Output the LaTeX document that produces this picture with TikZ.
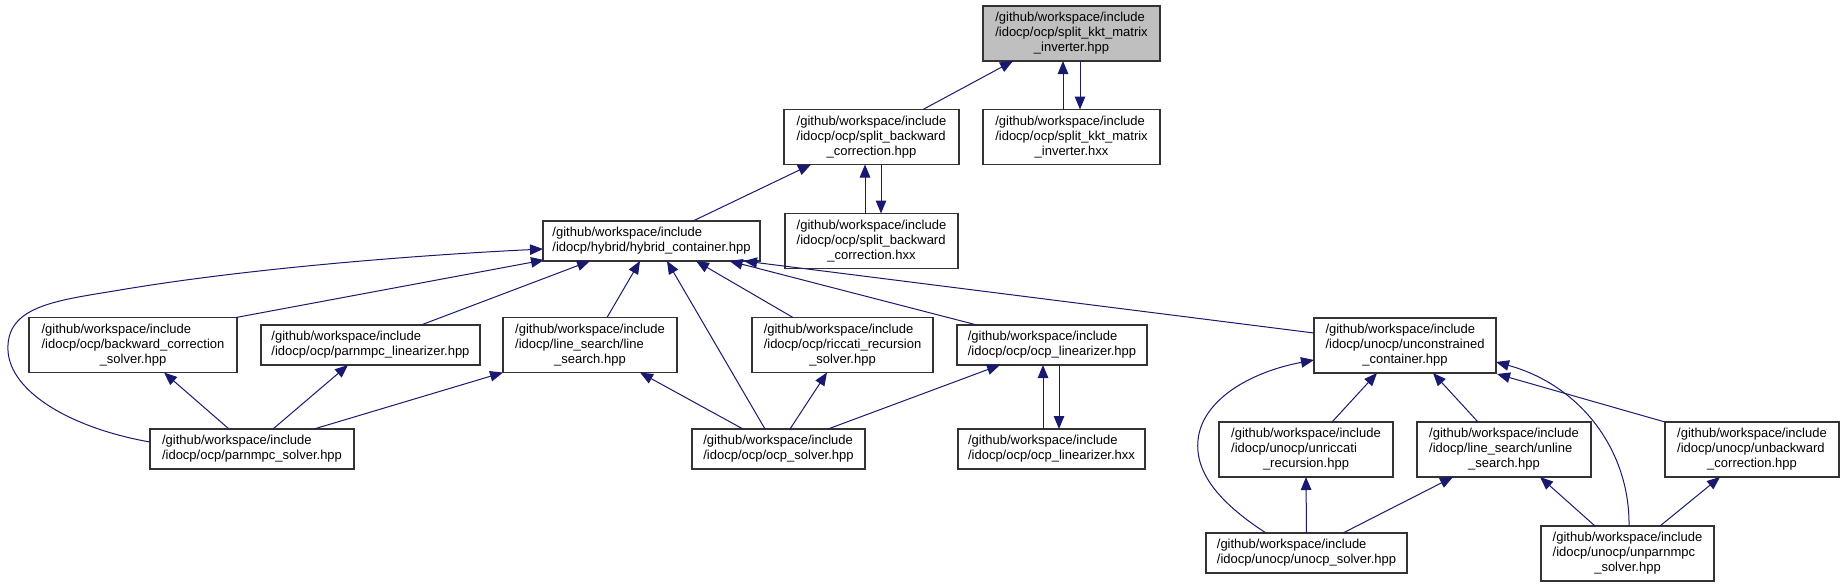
\documentclass[tikz,border=0pt]{standalone}
\usepackage{fontspec}
\setmainfont{Liberation Sans}
\usetikzlibrary{arrows.meta,calc}
\definecolor{edgeblue}{RGB}{25,25,112}
\definecolor{nodegray}{RGB}{191,191,191}
\newcommand\lbltwo[2]{\begin{tabular}{@{}l@{}}#1\\#2\end{tabular}}
\newcommand\lblthree[3]{\begin{tabular}{@{}l@{}}#1\\#2\\\multicolumn{1}{@{}c@{}}{#3}\end{tabular}}
\newcommand\gw{/github/workspace/include}
\begin{document}
\begin{tikzpicture}[x=1pt,y=-1pt,
  box/.style={draw=black!80, line width=1.1pt, fill=white, inner sep=0pt, outer sep=0pt,
    minimum width=#1, font=\fontsize{13pt}{15pt}\selectfont, text=black},
  hthree/.style={minimum height=55pt},
  htwo/.style={minimum height=40pt},
  edge/.style={draw=edgeblue, line width=1pt, -{Triangle[length=13pt,width=10.5pt]}}
]
\useasboundingbox[fill=white] (0,0) rectangle (1844,587);

% nodes
\node[box=177pt, hthree, fill=nodegray] (kkt) at (1071.5,33.5) {\lblthree{\gw}{/idocp/ocp/split\_kkt\_matrix}{\_inverter.hpp}};
\node[box=175pt, hthree] (sbc) at (871.5,137) {\lblthree{\gw}{/idocp/ocp/split\_backward}{\_correction.hpp}};
\node[box=177pt, hthree] (kkthxx) at (1071.5,137) {\lblthree{\gw}{/idocp/ocp/split\_kkt\_matrix}{\_inverter.hxx}};
\node[box=173pt, hthree] (sbchxx) at (871.5,241) {\lblthree{\gw}{/idocp/ocp/split\_backward}{\_correction.hxx}};
\node[box=217pt, htwo] (hyb) at (651.5,241) {\lbltwo{\gw}{/idocp/hybrid/hybrid\_container.hpp}};

\node[box=208pt, hthree] (bcs) at (133,345) {\lblthree{\gw}{/idocp/ocp/backward\_correction}{\_solver.hpp}};
\node[box=219pt, htwo] (pl) at (370.5,345) {\lbltwo{\gw}{/idocp/ocp/parnmpc\_linearizer.hpp}};
\node[box=174pt, hthree] (ls) at (590,345) {\lblthree{\gw}{/idocp/line\_search/line}{\_search.hpp}};
\node[box=181pt, hthree] (rrs) at (842.5,345) {\lblthree{\gw}{/idocp/ocp/riccati\_recursion}{\_solver.hpp}};
\node[box=190pt, htwo] (ol) at (1052,345) {\lbltwo{\gw}{/idocp/ocp/ocp\_linearizer.hpp}};
\node[box=182pt, hthree] (uc) at (1405,345.5) {\lblthree{\gw}{/idocp/unocp/unconstrained}{\_container.hpp}};

\node[box=204pt, htwo] (ps) at (252,449) {\lbltwo{\gw}{/idocp/ocp/parnmpc\_solver.hpp}};
\node[box=173pt, htwo] (os) at (778.5,449) {\lbltwo{\gw}{/idocp/ocp/ocp\_solver.hpp}};
\node[box=187pt, htwo] (olh) at (1051.5,449) {\lbltwo{\gw}{/idocp/ocp/ocp\_linearizer.hxx}};
\node[box=174pt, hthree] (ur) at (1306,449.5) {\lblthree{\gw}{/idocp/unocp/unriccati}{\_recursion.hpp}};
\node[box=174pt, hthree] (uls) at (1504,449.5) {\lblthree{\gw}{/idocp/line\_search/unline}{\_search.hpp}};
\node[box=174pt, hthree] (ub) at (1752,449.5) {\lblthree{\gw}{/idocp/unocp/unbackward}{\_correction.hpp}};

\node[box=201pt, htwo] (uos) at (1306.5,553) {\lbltwo{\gw}{/idocp/unocp/unocp\_solver.hpp}};
\node[box=173pt, hthree] (ups) at (1627.5,553.5) {\lblthree{\gw}{/idocp/unocp/unparnmpc}{\_solver.hpp}};

% edges (arrow head at the included file)
\draw[edge] ($(sbc.north)+(51.5,0)$) -- ($(kkt.south)+(-58.5,0)$);
\draw[edge] ($(kkthxx.north)+(-8.5,0)$) -- ($(kkt.south)+(-8.5,0)$);
\draw[edge] ($(kkt.south)+(8.5,0)$) -- ($(kkthxx.north)+(8.5,0)$);
\draw[edge] ($(hyb.north)+(41.5,0)$) -- ($(sbc.south)+(-60.5,0)$);
\draw[edge] ($(sbchxx.north)+(-6.5,0)$) -- ($(sbc.south)+(-6.5,0)$);
\draw[edge] ($(sbc.south)+(9.5,0)$) -- ($(sbchxx.north)+(9.5,0)$);

\draw[edge] ($(ps.west)+(0,-7)$) .. controls (70,428) and (5,390) .. (8,345)
   .. controls (10,305) and (60,300) .. (120,290)
   .. controls (250,268) and (420,255) .. ($(hyb.west)+(0,8)$);
\draw[edge] ($(bcs.north east)+(-1,0)$) -- ($(hyb.south west)+(1,-1)$);
\draw[edge] ($(pl.north)+(50.5,0)$) -- ($(hyb.south)+(-61.5,0)$);
\draw[edge] ($(ls.north)+(17,0)$) -- ($(hyb.south)+(-11.5,0)$);
\draw[edge] ($(os.north)+(-13.5,0)$) -- ($(hyb.south)+(15.5,0)$);
\draw[edge] ($(rrs.north)+(-49.5,0)$) -- ($(hyb.south)+(44.5,0)$);
\draw[edge] ($(ol.north)+(-75,0)$) -- ($(hyb.south)+(78,0)$);
\draw[edge] ($(uc.west)+(0,-12.5)$) -- ($(hyb.south)+(92.5,0)$);

\draw[edge] ($(ps.north)+(62,0)$) -- (ls.south west);
\draw[edge] ($(os.north)+(-35.5,0)$) -- ($(ls.south)+(50,0)$);
\draw[edge] ($(ps.north)+(-23,0)$) -- ($(bcs.south)+(31,0)$);
\draw[edge] ($(ps.north)+(21,0)$) -- ($(pl.south)+(-22.5,0)$);
\draw[edge] ($(os.north)+(11.5,0)$) -- ($(rrs.south)+(-15.5,0)$);
\draw[edge] ($(os.north)+(49.5,0)$) -- ($(ol.south)+(-52,0)$);
\draw[edge] ($(olh.north)+(-8.5,0)$) -- ($(ol.south)+(-9,0)$);
\draw[edge] ($(ol.south)+(7,0)$) -- ($(olh.north)+(7.5,0)$);

\draw[edge] ($(uos.north)+(-40.5,0)$) .. controls (1215,500) and (1195,470) .. (1198,440)
   .. controls (1202,400) and (1250,372) .. ($(uc.west)+(0,14.5)$);
\draw[edge] ($(ur.north)+(26,0)$) -- ($(uc.south)+(-28,0)$);
\draw[edge] ($(uls.north)+(-26,0)$) -- ($(uc.south)+(28,0)$);
\draw[edge] ($(ups.north)+(1.5,0)$) .. controls (1630,450) and (1580,385) .. ($(uc.east)+(0,16.5)$);
\draw[edge] (ub.north west) -- ($(uc.south east)+(1,1)$);
\draw[edge] (uos.north) -- (ur.south);
\draw[edge] ($(uos.north)+(36.5,0)$) -- ($(uls.south)+(-51,0)$);
\draw[edge] ($(ups.north)+(-32.5,0)$) -- ($(uls.south)+(36,0)$);
\draw[edge] ($(ups.north)+(32.5,0)$) -- ($(ub.south)+(-32,0)$);
\end{tikzpicture}
\end{document}
